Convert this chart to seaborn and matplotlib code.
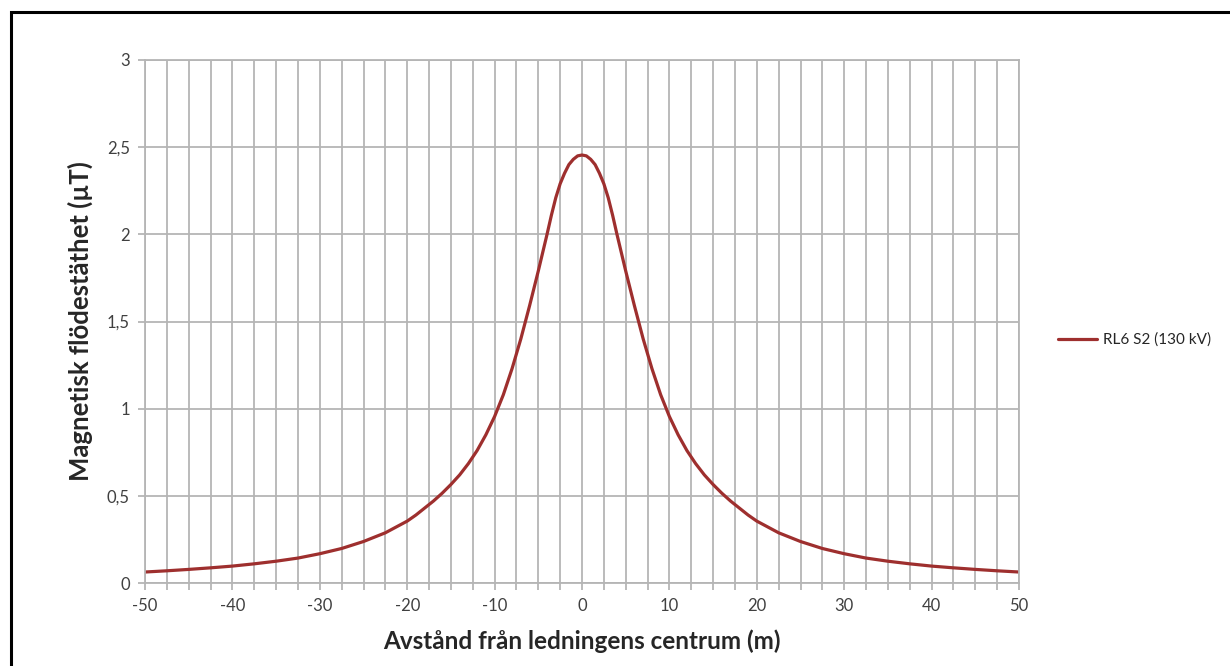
import numpy as np
import matplotlib
matplotlib.use("Agg")
import matplotlib.pyplot as plt
import matplotlib.patches as mpatches
import pandas as pd
import seaborn as sns

# avstånd (m) och flödestäthet (µT)
avstand = [-50, -47.5, -45, -42.5, -40, -37.5, -35, -32.5, -30, -27.5, -25, -22.5,
           -20, -19, -18, -17, -16, -15, -14, -13, -12, -11, -10, -9, -8, -7, -6,
           -5, -4, -3.5, -3, -2.5, -2, -1.5, -1, -0.5, 0, 0.5, 1, 1.5, 2, 2.5, 3,
           3.5, 4, 5, 6, 7, 8, 9, 10, 11, 12, 13, 14, 15, 16, 17, 18, 19, 20,
           22.5, 25, 27.5, 30, 32.5, 35, 37.5, 40, 42.5, 45, 47.5, 50]
flodestathet = [0.063, 0.070, 0.078, 0.087, 0.097, 0.110, 0.125, 0.143, 0.168, 0.198,
                0.238, 0.288, 0.355, 0.39, 0.43, 0.47, 0.515, 0.565, 0.62, 0.685,
                0.76, 0.85, 0.955, 1.08, 1.23, 1.40, 1.59, 1.79, 2.00, 2.11, 2.21,
                2.29, 2.35, 2.40, 2.43, 2.45, 2.455, 2.45, 2.43, 2.40, 2.35, 2.29,
                2.21, 2.11, 2.00, 1.79, 1.59, 1.40, 1.23, 1.08, 0.955, 0.85, 0.76,
                0.685, 0.62, 0.565, 0.515, 0.47, 0.43, 0.39, 0.355, 0.288, 0.238,
                0.198, 0.168, 0.143, 0.125, 0.110, 0.097, 0.087, 0.078, 0.070, 0.063]
serie_namn = "RL6 S2 (130 kV)"

x_ticks = [-50, -40, -30, -20, -10, 0, 10, 20, 30, 40, 50]
y_ticks = [0, 0.5, 1, 1.5, 2, 2.5, 3]
y_ticklabels = ["0", "0,5", "1", "1,5", "2", "2,5", "3"]

df = pd.DataFrame({"x": avstand, "y": flodestathet, "serie": serie_namn})

sns.set_theme(style="white")
plt.rcParams['font.family'] = ['Lato', 'DejaVu Sans']
plt.rcParams['axes.unicode_minus'] = False

fig = plt.figure(figsize=(12.3, 6.66), dpi=100)
ax = fig.add_axes([145/1230, 1 - 583/666, (1019-145)/1230, (583-60)/666])

sns.lineplot(data=df, x="x", y="y", hue="serie", palette=["#9e2f2e"],
             linewidth=2.3, ax=ax, legend=True)

ax.set_xlim(-50, 50)
ax.set_ylim(0, 3)
ax.set_xticks(x_ticks)
ax.set_xticks(np.arange(-50, 50.1, 2.5), minor=True)
ax.set_yticks(y_ticks)
ax.set_yticklabels(y_ticklabels)

gridc = "#b5b5b5"
ax.grid(True, which="both", axis="x", color=gridc, linewidth=1.3)
ax.grid(True, which="major", axis="y", color=gridc, linewidth=1.3)
ax.set_axisbelow(True)
for s in ax.spines.values():
    s.set_color(gridc)
    s.set_linewidth(1.3)

ax.tick_params(axis="x", which="both", direction="out", length=5, width=1.3,
               color=gridc, bottom=True, labelsize=12, labelcolor="#404040", pad=6)
ax.tick_params(axis="y", which="major", direction="out", length=5, width=1.3,
               color=gridc, left=True, labelsize=12, labelcolor="#404040", pad=6)

ax.set_xlabel("Avstånd från ledningens centrum (m)", fontsize=17.5, fontweight="bold",
              labelpad=11)
ax.set_ylabel("Magnetisk flödestäthet (µT)", fontsize=18.5, fontweight="bold",
              labelpad=10)

ax.legend(loc="center left", bbox_to_anchor=(1044/1230, 1 - 340/666),
          bbox_transform=fig.transFigure, frameon=False, fontsize=11,
          handlelength=2.6, handletextpad=0.35)

# ramen runt diagramytan
fig.patches.append(mpatches.Rectangle((11/1230, -0.1), 1.2, 1.1 - 12/666,
                                      transform=fig.transFigure, fill=False,
                                      edgecolor="black", linewidth=2.2))

fig.savefig("out.png", dpi=100)
